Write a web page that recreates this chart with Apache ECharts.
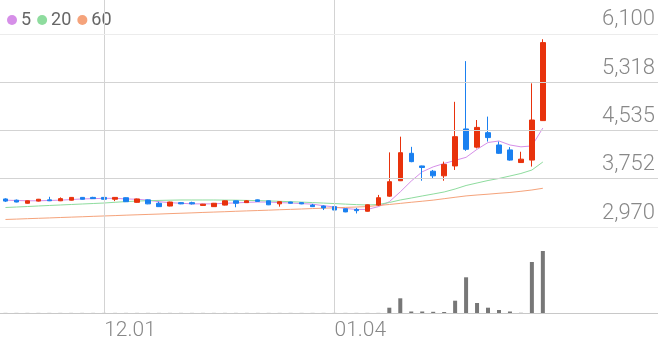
<!DOCTYPE html>
<html><head><meta charset="utf-8">
<script src="https://cdn.jsdelivr.net/npm/echarts@6/dist/echarts.min.js"></script>
<style>html,body{margin:0;padding:0;background:#fff}#c{width:658px;height:342px}</style>
</head><body><div id="c"></div>
<script>
// trading days (MM.DD), Nov 2023 - Jan 2024
const dates = ['11.20','11.21','11.22','11.23','11.24','11.27','11.28','11.29','11.30',
 '12.01','12.04','12.05','12.06','12.07','12.08','12.11','12.12','12.13','12.14','12.15',
 '12.18','12.19','12.20','12.21','12.22','12.26','12.27','12.28',
 '01.02','01.03','01.04','01.05','01.08','01.09','01.10','01.11','01.12','01.15','01.16',
 '01.17','01.18','01.19','01.22','01.23','01.24','01.25','01.26','01.29','01.30','01.31'];
const emptySlots = 10; // blank space right of the last candle
// [open, close, low, high]
const ohlc = [
 [3425,3390,3375,3435],[3405,3375,3370,3415],[3355,3395,3350,3400],[3390,3420,3385,3425],
 [3410,3395,3390,3460],[3395,3430,3390,3450],[3405,3450,3400,3455],[3450,3420,3415,3455],
 [3450,3430,3425,3460],[3450,3420,3415,3455],[3420,3450,3390,3455],[3445,3380,3375,3450],
 [3370,3425,3365,3430],[3410,3345,3340,3415],[3355,3300,3295,3380],[3310,3375,3305,3380],
 [3365,3345,3340,3370],[3365,3345,3335,3380],[3320,3340,3315,3345],[3300,3355,3295,3360],
 [3325,3395,3320,3400],[3395,3355,3290,3400],[3365,3395,3360,3405],[3410,3385,3380,3415],
 [3395,3330,3325,3400],[3345,3380,3300,3385],[3375,3355,3350,3380],[3365,3345,3340,3370],
 [3325,3300,3295,3345],[3310,3280,3245,3320],[3300,3245,3240,3305],[3265,3215,3210,3270],
 [3255,3235,3190,3280],[3225,3330,3220,3335],[3325,3445,3310,3490],[3470,3705,3460,4180],
 [3720,4175,3715,4435],[4165,4030,4020,4270],[3960,3935,3720,3965],[3875,3800,3760,3895],
 [3800,3985,3720,4030],[3960,4435,3895,5000],[4560,4230,4205,5660],[4265,4585,4245,4705],
 [4500,4420,4355,4760],[4300,4165,4155,4355],[4220,4055,4045,4265],[4015,4070,4010,4190],
 [4055,4705,3950,5300],[4695,5960,4690,6015]];
const volume = [10,10,10,10,10,10,10,10,10,10,10,10,10,10,10,10,10,10,10,10,
 10,10,10,10,10,10,10,10,10,10,10,10,10,10,10,530,1470,150,150,120,
 100,1230,3570,1000,530,300,150,20,5100,6200];
const ma5 = [3405,3400,3395,3395,3400,3405,3415,3425,3430,3435,3435,3425,3420,3405,3380,3365,
 3355,3345,3345,3345,3355,3360,3370,3375,3375,3365,3360,3350,3340,3315,3295,3270,3255,3255,
 3300,3380,3540,3715,3865,3945,4000,4050,4100,4230,4340,4365,4300,4270,4285,4575];
const ma20 = [3286,3294,3302,3311,3319,3327,3335,3343,3351,3359,3371,3382,3390,3397,3401,3405,
 3408,3408,3408,3408,3406,3405,3401,3398,3393,3387,3380,3374,3366,3358,3350,3341,3333,3327,
 3335,3367,3408,3440,3473,3505,3538,3586,3643,3684,3724,3757,3797,3838,3894,4024];
const ma60 = [3092,3098,3105,3111,3117,3124,3130,3136,3143,3149,3155,3162,3168,3174,3180,3187,
 3193,3199,3206,3212,3218,3225,3231,3237,3243,3250,3256,3262,3269,3275,3281,3288,3294,3301,
 3319,3335,3353,3371,3388,3406,3429,3452,3474,3489,3502,3517,3530,3549,3570,3598];
const priceTicks = [2970, 3752.5, 4535, 5317.5, 6100];
const priceTickLabels = ['2,970','3,752','4,535','5,318','6,100'];
const dateTickLabels = ['12.01','01.04'];

const categories = dates.concat(new Array(emptySlots).fill(''));
const RED = '#e8320c', BLUE = '#1a80f0';
const gridColor = '#d3d3d3';
const vLines = dateTickLabels.map(d => ({xAxis: d}));

const chart = echarts.init(document.getElementById('c'));
chart.setOption({
  animation: false,
  backgroundColor: '#fff',
  legend: {
    data: ['5','20','60'], left: 2, top: 6, icon: 'circle',
    itemWidth: 10, itemHeight: 10, itemGap: 6,
    textStyle: {color: '#666', fontSize: 18, fontFamily: 'Roboto', padding: [0,0,0,-1]}
  },
  grid: [
    {left: 0, right: 0, top: 0, height: 227, outerBoundsMode: 'none'},
    {left: 0, right: 0, top: 227, height: 86, outerBoundsMode: 'none'}
  ],
  xAxis: [
    {type: 'category', gridIndex: 0, data: categories, boundaryGap: true,
     axisLine: {show: false}, axisTick: {show: false}, axisLabel: {show: false}, splitLine: {show: false}},
    {type: 'category', gridIndex: 1, data: categories, boundaryGap: true,
     axisLine: {show: true, lineStyle: {color: '#c8c8c8', width: 1}},
     axisTick: {show: false}, splitLine: {show: false},
     axisLabel: {show: true, interval: (i, v) => dateTickLabels.includes(v), align: 'left',
       margin: 7, color: '#888', fontSize: 21, fontFamily: 'Roboto', fontWeight: 300}}
  ],
  yAxis: [
    {type: 'value', gridIndex: 0, min: 2970, max: 6651, scale: true,
     axisLine: {show: false}, axisTick: {show: false}, axisLabel: {show: false}, splitLine: {show: false}},
    {type: 'value', gridIndex: 1, min: 0, max: 8600,
     axisLine: {show: false}, axisTick: {show: false}, axisLabel: {show: false}, splitLine: {show: false}}
  ],
  series: [
    {name: '5', type: 'line', data: ma5, xAxisIndex: 0, yAxisIndex: 0, symbol: 'none',
     lineStyle: {color: '#d68fe8', width: 1}, itemStyle: {color: '#d68fe8'}, z: 2},
    {name: '20', type: 'line', data: ma20, xAxisIndex: 0, yAxisIndex: 0, symbol: 'none',
     lineStyle: {color: '#8edc9e', width: 1}, itemStyle: {color: '#8edc9e'}, z: 2},
    {name: '60', type: 'line', data: ma60, xAxisIndex: 0, yAxisIndex: 0, symbol: 'none',
     lineStyle: {color: '#f5a37b', width: 1}, itemStyle: {color: '#f5a37b'}, z: 2},
    {name: 'price', type: 'candlestick', data: ohlc, xAxisIndex: 0, yAxisIndex: 0,
     barWidth: 5, z: 3,
     itemStyle: {color: RED, color0: BLUE, borderColor: RED, borderColor0: BLUE, borderWidth: 1},
     markLine: {
       silent: true, symbol: ['none','none'], animation: false,
       lineStyle: {color: gridColor, width: 1, type: 'solid'},
       label: {show: false},
       data: vLines.concat(priceTicks.map((v, i) => ({
         yAxis: v,
         lineStyle: {color: (i === 0 || i === priceTicks.length - 1) ? '#ececec' : gridColor},
         label: {show: true, position: 'insideEndTop', formatter: priceTickLabels[i],
           color: '#888', fontSize: 22, fontFamily: 'Roboto', fontWeight: 300, distance: 3}
       })))
     }},
    {name: 'vol', type: 'bar', data: volume, xAxisIndex: 1, yAxisIndex: 1, barWidth: 4,
     itemStyle: {color: '#777'},
     markLine: {silent: true, symbol: ['none','none'], animation: false,
       lineStyle: {color: gridColor, width: 1, type: 'solid'}, label: {show: false},
       data: vLines}}
  ]
});
</script>
</body></html>
